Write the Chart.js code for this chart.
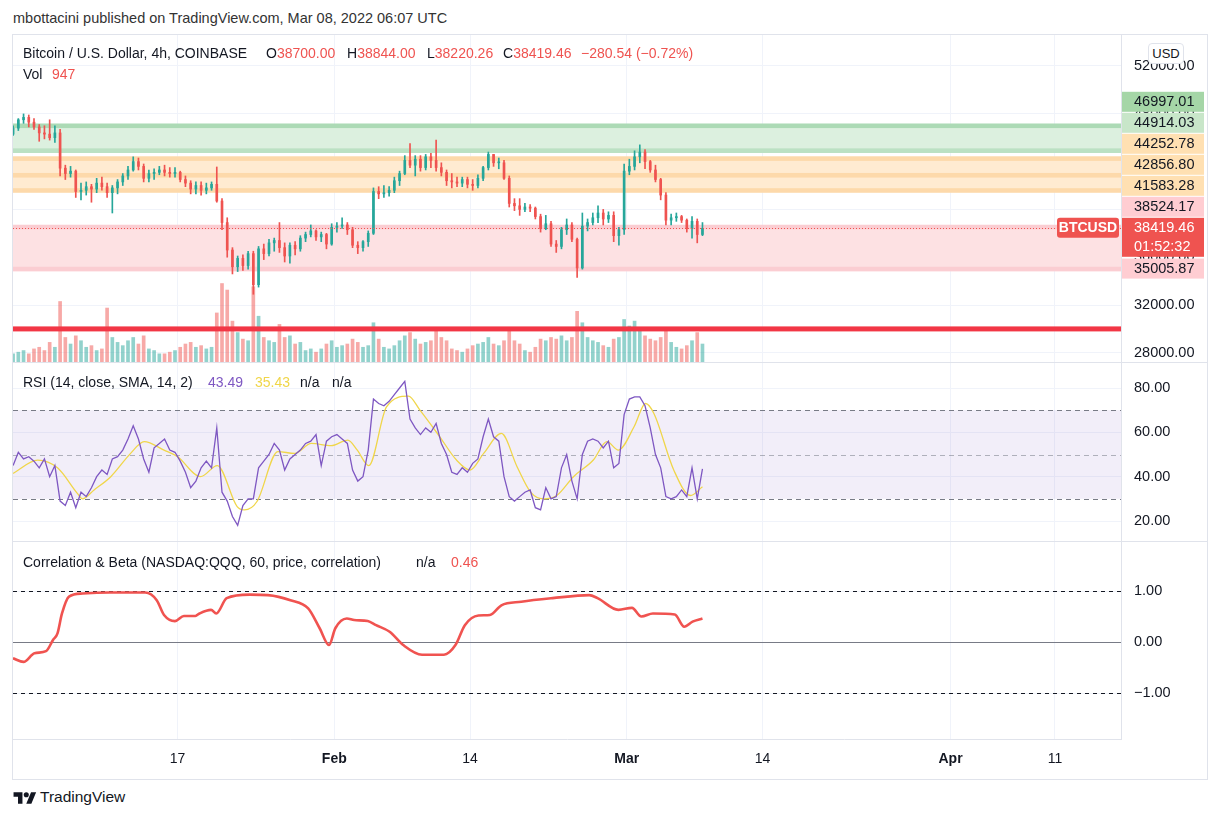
<!DOCTYPE html>
<html>
<head>
<meta charset="utf-8">
<script src="https://cdn.jsdelivr.net/npm/chart.js@4.4.1/dist/chart.umd.min.js"></script>
<style>
  body { margin: 0; background: #fff; width: 1221px; height: 819px; position: relative; overflow: hidden;
         font-family: "Liberation Sans", Arial, sans-serif; color: #131722; }
  .t { position: absolute; white-space: nowrap; font-size: 14px; line-height: 16px; }
  .red { color: #ef5350; }
  #frame { position: absolute; left: 12px; top: 34px; width: 1196px; height: 746px; border: 1px solid #e0e3eb; box-sizing: border-box; }
  .sep { position: absolute; left: 12px; width: 1196px; height: 1px; background: #e0e3eb; }
  canvas { position: absolute; left: 13px; }
  #usd { position: absolute; left: 1148px; top: 43px; width: 34px; height: 19px; border: 1px solid #e0e3eb; border-radius: 4px;
         background: #fff; font-size: 13px; line-height: 19px; text-align: center; }
</style>
</head>
<body>
<div class="t" style="left:13px; top:10px; font-size:14.5px; color:#333">mbottacini published on TradingView.com, Mar 08, 2022 06:07 UTC</div>
<div id="frame"></div>
<canvas id="priceChart" width="1193" height="327" style="top:35px"></canvas>
<div class="sep" style="top:362px"></div>
<canvas id="rsiChart" width="1193" height="178" style="top:363px"></canvas>
<div class="sep" style="top:541px"></div>
<canvas id="corrChart" width="1193" height="237" style="top:542px"></canvas>

<div class="t" style="left:23px; top:45px">Bitcoin / U.S. Dollar, 4h, COINBASE</div>
<div class="t" style="left:266px; top:45px">O<span class="red">38700.00</span></div>
<div class="t" style="left:347px; top:45px">H<span class="red">38844.00</span></div>
<div class="t" style="left:427px; top:45px">L<span class="red">38220.26</span></div>
<div class="t" style="left:503px; top:45px">C<span class="red">38419.46</span></div>
<div class="t red" style="left:581px; top:45px">−280.54 (−0.72%)</div>
<div class="t" style="left:23px; top:66px">Vol</div>
<div class="t red" style="left:52px; top:66px">947</div>
<div id="usd">USD</div>

<div class="t" style="left:23px; top:374px">RSI (14, close, SMA, 14, 2)</div>
<div class="t" style="left:208px; top:374px; color:#7e57c2">43.49</div>
<div class="t" style="left:255px; top:374px; color:#f0d64a">35.43</div>
<div class="t" style="left:300px; top:374px">n/a</div>
<div class="t" style="left:332px; top:374px">n/a</div>

<div class="t" style="left:23px; top:554px">Correlation &amp; Beta (NASDAQ:QQQ, 60, price, correlation)</div>
<div class="t" style="left:416px; top:554px">n/a</div>
<div class="t red" style="left:451px; top:554px">0.46</div>

<svg style="position:absolute; left:13px; top:791px" width="24" height="14" viewBox="0 0 36 22">
  <path d="M14 20H7V9H0V2h14v18zM28 20h-8l7.5-18h8L28 20z" fill="#131722"/>
  <circle cx="20" cy="6" r="4" fill="#131722"/>
</svg>
<div class="t" style="left:40px; top:789px; font-size:15.5px">TradingView</div>

<script>
// 12h candles, Jan 1 00:00 UTC .. Mar 8 2022 (day 0 = Jan 1)
const opens = [
  46300, 46800, 47500, 47700, 47300, 46900, 46400, 46300, 46000, 46400,
  43450, 43000, 43200, 41500, 41600, 41900, 41700, 42200, 41900, 41400,
  41800, 42300, 42800, 43300, 44000, 43600, 42600, 43000, 43100, 43300,
  43100, 43000, 43100, 42500, 42200, 41700, 42000, 41600, 41800, 42100,
  40700, 38900, 36600, 35200, 35900, 35300, 36300, 33700, 36700, 36300,
  37200, 37400, 36800, 36100, 37000, 36700, 37600, 37900, 38200, 37700,
  37900, 37100, 38500, 38600, 38700, 38300, 37000, 36800, 37300, 38000,
  41500, 41300, 41400, 41600, 42400, 43000, 44100, 43700, 44200, 43500,
  44400, 44100, 43500, 43100, 42400, 42300, 42200, 42500, 42100, 42000,
  42600, 43500, 44600, 43900, 43900, 42600, 40500, 40300, 40000, 40200,
  40100, 39400, 38400, 38800, 37100, 36900, 38300, 38700, 37500, 35100,
  38600, 38900, 39300, 39700, 39200, 39500, 37800, 38300, 43200, 43600,
  44400, 44800, 44000, 43300, 42500, 41200, 39100, 39300, 39400, 39100,
  38400, 39000, 37900
];
const highs = [
  47000, 47600, 47990, 47900, 47600, 47100, 47000, 47500, 47000, 46700,
  43700, 43600, 43300, 42200, 42300, 42100, 42600, 42700, 42200, 42000,
  42500, 43000, 43600, 44400, 44300, 43800, 43300, 43400, 43600, 43700,
  43500, 43500, 43200, 42800, 42400, 42300, 42300, 42200, 42300, 43550,
  40900, 39300, 36800, 36100, 36200, 36500, 36500, 36900, 37100, 37500,
  37600, 38900, 37200, 37200, 37300, 37800, 38100, 38700, 38300, 38100,
  38000, 38800, 38900, 39300, 38900, 38500, 37300, 37400, 38200, 41800,
  41900, 42000, 41900, 42700, 43200, 44500, 45500, 44500, 44500, 44600,
  44700, 45800, 43900, 43300, 43000, 42700, 42700, 42700, 42500, 42900,
  43600, 44800, 44600, 44300, 44100, 42800, 40900, 40900, 40500, 40400,
  40200, 39600, 39500, 39000, 37400, 38500, 39200, 38900, 37600, 39700,
  39200, 39700, 40300, 40000, 39800, 39800, 38500, 43800, 44200, 44900,
  45400, 45000, 44100, 43700, 42600, 41400, 39600, 39700, 39500, 39200,
  39400, 39200, 38900
];
const lows = [
  46200, 46600, 47200, 46900, 46700, 45700, 45900, 45800, 45600, 42800,
  42500, 42700, 41000, 40800, 41200, 40600, 41400, 41600, 41000, 39700,
  41300, 42000, 42500, 43200, 43300, 42300, 42300, 42500, 42900, 42800,
  42700, 42700, 42300, 41900, 41300, 41300, 41200, 41300, 41600, 40600,
  38300, 36000, 34600, 34800, 34900, 35000, 32900, 33500, 35800, 36100,
  36500, 36400, 35600, 35500, 36200, 36500, 37300, 37700, 37400, 37300,
  36700, 37000, 38100, 38400, 37900, 36800, 36300, 36500, 36900, 37900,
  40900, 41000, 41100, 41400, 42000, 42900, 43500, 42800, 43200, 43300,
  43500, 43200, 42800, 42000, 41800, 41900, 41900, 41800, 41600, 41800,
  42400, 43300, 43600, 43400, 42500, 40200, 39900, 39500, 39800, 39800,
  39200, 38100, 38300, 36900, 36400, 36700, 37900, 37300, 34300, 35000,
  38200, 38700, 38900, 38700, 38900, 37300, 37000, 37900, 42900, 43300,
  43900, 43400, 43100, 42300, 40800, 38700, 38700, 39000, 38900, 38100,
  37600, 37200, 37800
];
const closes = [
  46800, 47500, 47700, 47300, 46900, 46400, 46300, 46000, 46400, 43450,
  43000, 43200, 41500, 41600, 41900, 41700, 42200, 41900, 41400, 41800,
  42300, 42800, 43300, 44000, 43600, 42600, 43000, 43100, 43300, 43100,
  43000, 43100, 42500, 42200, 41700, 42000, 41600, 41800, 42100, 40700,
  38900, 36600, 35200, 35900, 35300, 36300, 33700, 36700, 36300, 37200,
  37400, 36800, 36100, 37000, 36700, 37600, 37900, 38200, 37700, 37900,
  37100, 38500, 38600, 38700, 38300, 37000, 36800, 37300, 38000, 41500,
  41300, 41400, 41600, 42400, 43000, 44100, 43700, 44200, 43500, 44400,
  44100, 43500, 43100, 42400, 42300, 42200, 42500, 42100, 42000, 42600,
  43500, 44600, 43900, 43900, 42600, 40500, 40300, 40000, 40200, 40100,
  39400, 38400, 38800, 37100, 36900, 38300, 38700, 37500, 35100, 38600,
  38900, 39300, 39700, 39200, 39500, 37800, 38300, 43200, 43600, 44400,
  44800, 44000, 43300, 42500, 41200, 39100, 39300, 39400, 39100, 38400,
  39000, 37900, 38419.46
];
const volumes = [
  500, 600, 700, 500, 800, 900, 700, 1200, 900, 3700,
  1500, 1100, 1600, 1300, 900, 1000, 700, 800, 3300, 1500,
  1200, 1000, 1300, 1500, 1100, 1600, 800, 700, 500, 500,
  600, 700, 900, 1100, 1200, 900, 1000, 800, 900, 3000,
  4800, 4400, 2500, 1800, 1400, 1300, 4600, 2800, 1500, 1300,
  1200, 2300, 1500, 1600, 1100, 1200, 700, 800, 600, 800,
  1100, 1300, 900, 1000, 1100, 1400, 1200, 900, 1000, 2400,
  1400, 900, 800, 1000, 1300, 1600, 1800, 1400, 1100, 1200,
  1300, 2000, 1500, 1300, 800, 700, 600, 800, 1000, 1100,
  1200, 1500, 1100, 1000, 1300, 1900, 1300, 1100, 700, 600,
  900, 1400, 1300, 1500, 1400, 1600, 1300, 1500, 3100, 2400,
  1500, 1300, 1200, 1000, 900, 1400, 1500, 2600, 2200, 2500,
  1900, 1600, 1400, 1300, 1500, 2000, 1200, 900, 800, 1000,
  1300, 1800, 1100
];
const rsiValues = [
  45, 51, 48, 49, 47, 44, 48, 40, 45, 29,
  27, 33, 26, 33, 31, 35, 40, 43, 41, 48,
  49, 52, 57, 63, 57, 48, 42, 53, 55, 57,
  52, 51, 47, 42, 35, 38, 44, 47, 44, 62,
  33, 29, 22, 18, 27, 30, 30, 44, 47, 50,
  55, 52, 43, 48, 50, 52, 55, 56, 59, 45,
  56, 58, 59, 57, 55, 43, 38, 40, 52, 75,
  73, 72, 74, 77, 80, 83, 66, 62, 59, 62,
  60, 64, 55, 50, 42, 41, 44, 42, 46, 48,
  58, 66, 58, 56, 40, 31, 29, 31, 33, 34,
  26, 25, 35, 30, 31, 44, 50, 38, 30, 50,
  56, 57, 56, 53, 56, 44, 46, 68, 75, 76,
  76, 72, 62, 50, 44, 31, 30, 31, 34, 31,
  44, 30, 43.49
];
const smaDays = [0.25, 2.6, 4.5, 6.4, 6.9, 8, 9.6, 11.5, 12.8, 14.7, 16, 18.2, 19.8, 21.7, 22.4, 23.6,
  25.6, 27.2, 28.8, 30.7, 32.3, 33.2, 34.3, 36, 38.1, 39.2, 41.1, 42.7, 44, 45.3, 47, 48.5, 49.8,
  51, 52.3, 53.9, 55.8, 57.1, 58.2, 59.7, 60.8, 61.6, 63.5, 65.1, 66.25];
const smaValues = [41.5, 47.5, 44, 32.5, 30, 34, 40, 50.5, 55.8, 52, 49, 40, 45, 26.5, 25, 28.8,
  51.3, 50.5, 55, 54, 56.5, 52, 45, 71.5, 76.3, 70, 58, 47.5, 43, 50.5, 59.5, 44.5, 33,
  30, 31.5, 40, 47.5, 55.8, 52, 62.5, 73, 68.5, 43, 31.5, 35.43];
const corrDays = [0.24, 1.25, 2.3, 3.4, 4.07, 4.5, 4.93, 5.6, 6.9, 9.5, 12.9, 14.0, 14.7, 15.75, 16.6,
  17.7, 18.1, 19.2, 19.7, 20.7, 22.9, 24.65, 26.8, 28.5, 29.6, 30.5, 31.1, 32.2, 32.9, 34.2, 35.0,
  36.3, 37.6, 39.4, 41.5, 42.6, 43.5, 44.8, 45.9, 47.0, 48.9, 51.9, 55.4, 56.2, 58.2, 59.5, 60.4,
  61.5, 63.6, 64.5, 65.3, 66.25];
const corrValues = [-0.32, -0.39, -0.22, -0.18, 0.04, 0.17, 0.56, 0.89, 0.95, 0.97, 0.97, 0.82, 0.53, 0.41, 0.51,
  0.51, 0.56, 0.63, 0.56, 0.86, 0.93, 0.92, 0.82, 0.66, 0.27, -0.06, 0.27, 0.46, 0.43, 0.41, 0.33,
  0.20, -0.06, -0.25, -0.25, -0.06, 0.33, 0.52, 0.53, 0.72, 0.79, 0.86, 0.92, 0.86, 0.63, 0.67, 0.50,
  0.56, 0.54, 0.30, 0.40, 0.46];

// horizontal levels drawn on the price pane
const levels = [46997.01, 44914.03, 44252.78, 42856.80, 41583.28, 38524.17, 35005.87];
const zoneLows = [44914.03, 41583.28, 35005.87];
const zoneHighs = [46997.01, 44252.78, 38524.17];
const supportLine = 30000;
const lastPrice = 38419.46;
const countdown = "01:52:32";

const priceTicks = [28000, 32000, 36000, 40000, 44000, 48000, 52000];
const rsiTicks = [20, 40, 60, 80];
const corrTicks = [-1, 0, 1];
const timeTickDays = [16, 31, 44, 59, 72, 90, 100];
const timeTickLabels = ["17", "Feb", "14", "Mar", "14", "Apr", "11"];

// styles
const FONT = '"Liberation Sans", Arial, sans-serif';
const UP = "#26a69a", DOWN = "#ef5350";
const zoneFill = ["#dcf0df", "#ffebd1", "#fde1e3"];
const levelColor = ["#acdab5", "#bbe1c3", "#fdd9aa", "#fdd9aa", "#fdd9aa", "#fbcdd2", "#fbcdd2"];
const labelColor = ["#a5d6a7", "#c8e6c9", "#ffe0b2", "#ffe0b2", "#ffe0b2", "#ffcdd2", "#ffcdd2"];

const dayMin = 0.24, dayMax = 106.32;
const candleDays = closes.map((c, i) => i * 0.5 + 0.25);
const dirColor = closes.map((c, i) => (c >= opens[i] ? UP : DOWN));
const volColor = closes.map((c, i) => (c >= opens[i] ? "rgba(38,166,154,0.5)" : "rgba(239,83,80,0.5)"));

function xAxis(show) {
  return {
    type: "linear", min: dayMin, max: dayMax, offset: false,
    afterBuildTicks: s => { s.ticks = timeTickDays.map(v => ({ value: v })); },
    afterFit: s => { s.height = show ? 40 : 0; s.paddingLeft = 0; s.paddingRight = 0; },
    grid: { color: "#f0f3fa", drawTicks: false, offset: false },
    border: { display: show, color: "#e0e3eb" },
    ticks: {
      display: show, padding: 12, color: "#131722", maxRotation: 0, autoSkip: false,
      font: c => {
        const lab = timeTickLabels[timeTickDays.indexOf(c.tick ? c.tick.value : -1)] || "";
        return { family: FONT, size: 14, weight: isNaN(Number(lab)) ? "bold" : "normal" };
      },
      callback: v => timeTickLabels[timeTickDays.indexOf(v)]
    }
  };
}

function yAxis(min, max, ticks, fmt) {
  return {
    position: "right", min: min, max: max,
    afterBuildTicks: s => { s.ticks = ticks.map(v => ({ value: v })); },
    // fixed axis width, no extra room reserved above/below the labels
    afterFit: s => { s.width = 85; s.paddingTop = 0; s.paddingBottom = 0; },
    grid: { color: "#f0f3fa", drawTicks: false },
    border: { color: "#e0e3eb" },
    ticks: { padding: 13, color: "#131722", font: { family: FONT, size: 14.5 }, callback: fmt }
  };
}

const common = {
  responsive: false, animation: false, devicePixelRatio: 1, events: [],
  layout: { padding: 0 },
  plugins: { legend: { display: false }, tooltip: { enabled: false } }
};

// price pane: zones, levels and the labels on the price axis
const zonesPlugin = {
  id: "zones",
  beforeDatasetsDraw(chart) {
    const { ctx, chartArea: a, scales: { y } } = chart;
    ctx.save();
    ctx.beginPath(); ctx.rect(a.left, a.top, a.width, a.height); ctx.clip();
    zoneLows.forEach((lo, i) => {
      const top = y.getPixelForValue(zoneHighs[i]), bot = y.getPixelForValue(lo);
      ctx.fillStyle = zoneFill[i];
      ctx.fillRect(a.left, top, a.width, bot - top);
    });
    levels.forEach((v, i) => {
      const py = y.getPixelForValue(v);
      ctx.fillStyle = levelColor[i];
      ctx.fillRect(a.left, py - 2.3, a.width, 4.6);
    });
    ctx.restore();
  },
  afterDatasetsDraw(chart) {
    const { ctx, chartArea: a, scales: { y } } = chart;
    ctx.save();
    const ps = y.getPixelForValue(supportLine);
    ctx.fillStyle = "#f23645";
    ctx.fillRect(a.left, ps - 2.5, a.width, 5);
    const pl = Math.round(y.getPixelForValue(lastPrice)) + 0.5;
    ctx.strokeStyle = "#ef5350"; ctx.lineWidth = 1; ctx.setLineDash([1, 2]);
    ctx.beginPath(); ctx.moveTo(a.left, pl); ctx.lineTo(a.right, pl); ctx.stroke();
    ctx.restore();
  },
  afterDraw(chart) {
    const { ctx, chartArea: a, scales: { y } } = chart;
    const items = levels.map((v, i) => ({ v: v, h: 21, bg: labelColor[i] }));
    items.push({ v: lastPrice, h: 40, bg: "#ef5350", current: true });
    items.sort((p, q) => q.v - p.v);
    // stack labels upward from the lowest one so none overlap
    let nextTop = Infinity;
    for (let i = items.length - 1; i >= 0; i--) {
      const it = items[i];
      it.top = Math.min(y.getPixelForValue(it.v) - 10.5, nextTop - it.h);
      nextTop = it.top;
    }
    ctx.save();
    ctx.textBaseline = "middle";
    items.forEach(it => {
      ctx.fillStyle = it.bg;
      ctx.fillRect(a.right + 1, it.top, 82, it.h - 1);
      ctx.font = "14.5px " + FONT;
      ctx.textAlign = "left";
      ctx.fillStyle = it.current ? "#ffffff" : "#131722";
      ctx.fillText(it.v.toFixed(2), a.right + 13, it.top + 10.5);
      if (it.current) {
        ctx.fillText(countdown, a.right + 13, it.top + 29);
        ctx.fillStyle = "#ef5350";
        ctx.beginPath();
        ctx.roundRect(a.right - 64, it.top, 62, 20, 3);
        ctx.fill();
        ctx.fillStyle = "#ffffff";
        ctx.font = "bold 14px " + FONT;
        ctx.textAlign = "center";
        ctx.fillText("BTCUSD", a.right - 33, it.top + 10.5);
      }
    });
    ctx.restore();
  }
};

new Chart(document.getElementById("priceChart"), {
  type: "bar",
  data: {
    datasets: [
      {
        label: "body", order: 1, grouped: false, barThickness: 2, minBarLength: 1,
        data: candleDays.map((d, i) => ({ x: d, y: [opens[i], closes[i]] })),
        backgroundColor: dirColor
      },
      {
        label: "wick", order: 2, grouped: false, barThickness: 1,
        data: candleDays.map((d, i) => ({ x: d, y: [lows[i], highs[i]] })),
        backgroundColor: dirColor
      },
      {
        label: "volume", order: 3, grouped: false, barThickness: 3, yAxisID: "vol",
        data: candleDays.map((d, i) => ({ x: d, y: volumes[i] })),
        backgroundColor: volColor
      }
    ]
  },
  options: Object.assign({}, common, {
    scales: {
      x: xAxis(false),
      y: yAxis(27231, 54594, priceTicks, v => v.toFixed(2)),
      vol: { display: false, min: 0, max: 20000 }
    }
  }),
  plugins: [zonesPlugin]
});

// RSI pane
const rsiBandPlugin = {
  id: "rsiBand",
  beforeDatasetsDraw(chart) {
    const { ctx, chartArea: a, scales: { y } } = chart;
    const y70 = y.getPixelForValue(70), y50 = y.getPixelForValue(50), y30 = y.getPixelForValue(30);
    ctx.save();
    ctx.fillStyle = "rgba(126,87,194,0.1)";
    ctx.fillRect(a.left, y70, a.width, y30 - y70);
    ctx.lineWidth = 1; ctx.setLineDash([5, 4]);
    [[y70, "#787b86"], [y50, "rgba(120,123,134,0.55)"], [y30, "#787b86"]].forEach(([py, col]) => {
      ctx.strokeStyle = col;
      ctx.beginPath(); ctx.moveTo(a.left, Math.round(py) + 0.5); ctx.lineTo(a.right, Math.round(py) + 0.5); ctx.stroke();
    });
    ctx.restore();
  }
};

new Chart(document.getElementById("rsiChart"), {
  type: "line",
  data: {
    datasets: [
      {
        label: "RSI", data: candleDays.map((d, i) => ({ x: d, y: rsiValues[i] })),
        borderColor: "#7e57c2", borderWidth: 1.3, pointRadius: 0, tension: 0
      },
      {
        label: "SMA", data: smaDays.map((d, i) => ({ x: d, y: smaValues[i] })),
        borderColor: "#f0d64a", borderWidth: 1.3, pointRadius: 0, cubicInterpolationMode: "monotone"
      }
    ]
  },
  options: Object.assign({}, common, {
    scales: {
      x: xAxis(false),
      y: yAxis(10.98, 91.28, rsiTicks, v => v.toFixed(2))
    }
  }),
  plugins: [rsiBandPlugin]
});

// correlation pane
const corrLinesPlugin = {
  id: "corrLines",
  beforeDatasetsDraw(chart) {
    const { ctx, chartArea: a, scales: { y } } = chart;
    ctx.save();
    ctx.lineWidth = 1;
    ctx.setLineDash([4, 4]);
    ctx.strokeStyle = "#131722";
    [1, -1].forEach(v => {
      const py = Math.round(y.getPixelForValue(v)) + 0.5;
      ctx.beginPath(); ctx.moveTo(a.left, py); ctx.lineTo(a.right, py); ctx.stroke();
    });
    ctx.setLineDash([]);
    ctx.strokeStyle = "#787b86";
    const p0 = Math.round(y.getPixelForValue(0)) + 0.5;
    ctx.beginPath(); ctx.moveTo(a.left, p0); ctx.lineTo(a.right, p0); ctx.stroke();
    ctx.restore();
  }
};

new Chart(document.getElementById("corrChart"), {
  type: "line",
  data: {
    datasets: [{
      label: "Correlation", data: corrDays.map((d, i) => ({ x: d, y: corrValues[i] })),
      borderColor: "#f05350", borderWidth: 2.6, pointRadius: 0, cubicInterpolationMode: "monotone"
    }]
  },
  options: Object.assign({}, common, {
    scales: {
      x: xAxis(true),
      y: yAxis(-1.902, 1.961, corrTicks, v => (v < 0 ? "−" : "") + Math.abs(v).toFixed(2))
    }
  }),
  plugins: [corrLinesPlugin]
});
</script>
</body>
</html>
